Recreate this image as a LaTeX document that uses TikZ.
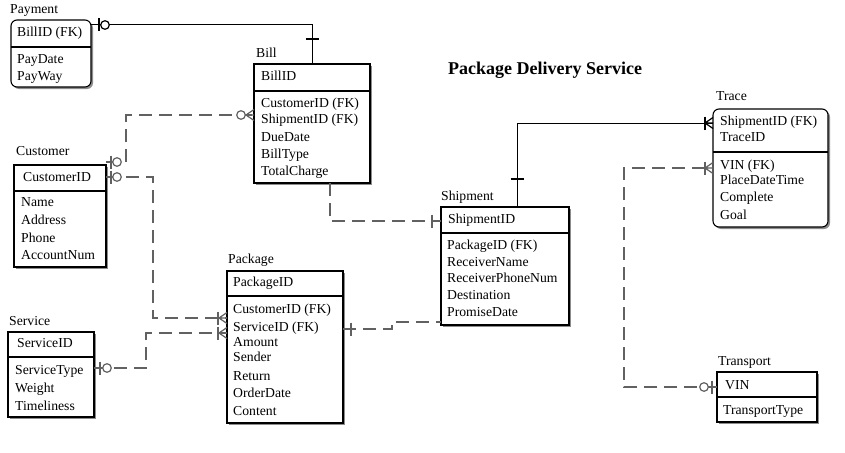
\documentclass[tikz,border=0pt]{standalone}
\usepackage{fontspec}
\setmainfont{Liberation Serif}
\usetikzlibrary{shadows}
\begin{document}
\begin{tikzpicture}[x=1pt,y=-1pt,
  ent/.style={draw=black, line width=1.1pt, fill=white, anchor=north west, inner sep=0pt, outer sep=0pt,
    drop shadow={shadow xshift=2pt, shadow yshift=-2pt, fill=black!45, opacity=1}},
  rnd/.style={rounded corners=6pt},
  div/.style={line width=1.1pt},
  txt/.style={anchor=west, inner sep=0pt, text height=1.55ex, text depth=.45ex, font=\fontsize{13.7}{16}\selectfont},
  conn/.style={line width=1pt, black},
  dconn/.style={line width=1.4pt, black!62, dash pattern=on 13pt off 7pt},
  sym/.style={solid, line width=1.2pt},
  vbar/.pic={\draw[sym] (0,-6.5) -- (0,6.5);},
  hbar/.pic={\draw[sym] (-6.5,0) -- (6.5,0);},
  ocirc/.pic={\draw[sym, fill=white] (0,0) circle (4.3pt);},
  crowfoot/.pic={\draw[sym] (-8,0) -- (0,-5.5) (-8,0) -- (0,0) (-8,0) -- (0,5.5);},
]
\useasboundingbox[fill=white] (0,0) rectangle (845,452);

% title
\node[inner sep=0pt, font=\fontsize{18}{20}\bfseries\selectfont] (ttl) at (545,70) {Package Delivery Service};

% ---------- Payment
\node[ent, rnd, minimum width=80pt, minimum height=67pt] (pay) at (11,20) {};
\draw[div] (11,47) -- (91,47);
\node[txt] (payT) at (10,11) {Payment};
\node[txt] (pay1) at (17,34) {BillID (FK)};
\node[txt] (pay2) at (17,61) {PayDate};
\node[txt] (pay3) at (17,78) {PayWay};

% ---------- Bill
\node[ent, minimum width=116pt, minimum height=119pt] (bill) at (254,64) {};
\draw[div] (254,91) -- (370,91);
\node[txt] (billT) at (256,55) {Bill};
\node[txt] (bill1) at (261,78) {BillID};
\node[txt] (bill2) at (261,105) {CustomerID (FK)};
\node[txt] (bill3) at (261,121) {ShipmentID (FK)};
\node[txt] (bill4) at (261,139) {DueDate};
\node[txt] (bill5) at (261,156) {BillType};
\node[txt] (bill6) at (261,173) {TotalCharge};

% ---------- Customer
\node[ent, minimum width=92pt, minimum height=102pt] (cus) at (14,165) {};
\draw[div] (14,191) -- (106,191);
\node[txt] (cusT) at (16,153) {Customer};
\node[txt] (cus1) at (23,179) {CustomerID};
\node[txt] (cus2) at (21,204) {Name};
\node[txt] (cus3) at (21,222) {Address};
\node[txt] (cus4) at (21,240) {Phone};
\node[txt] (cus5) at (21,257) {AccountNum};

% ---------- Service
\node[ent, minimum width=86pt, minimum height=85pt] (srv) at (8,332) {};
\draw[div] (8,357) -- (94,357);
\node[txt] (srvT) at (9,323) {Service};
\node[txt] (srv1) at (17,345) {ServiceID};
\node[txt] (srv2) at (15,372) {ServiceType};
\node[txt] (srv3) at (15,390) {Weight};
\node[txt] (srv4) at (15,408) {Timeliness};

% ---------- Package
\node[ent, minimum width=116pt, minimum height=152pt] (pkg) at (227,271) {};
\draw[div] (227,296) -- (343,296);
\node[txt] (pkgT) at (228,261) {Package};
\node[txt] (pkg1) at (233,284) {PackageID};
\node[txt] (pkg2) at (233,311) {CustomerID (FK)};
\node[txt] (pkg3) at (233,329) {ServiceID (FK)};
\node[txt] (pkg4) at (233,344) {Amount};
\node[txt] (pkg5) at (233,359) {Sender};
\node[txt] (pkg6) at (233,378) {Return};
\node[txt] (pkg7) at (233,395) {OrderDate};
\node[txt] (pkg8) at (233,413) {Content};

% ---------- Shipment
\node[ent, minimum width=128pt, minimum height=118pt] (shp) at (441,207) {};
\draw[div] (441,233) -- (569,233);
\node[txt] (shpT) at (441,198) {Shipment};
\node[txt] (shp1) at (448,221) {ShipmentID};
\node[txt] (shp2) at (447,247) {PackageID (FK)};
\node[txt] (shp3) at (447,264) {ReceiverName};
\node[txt] (shp4) at (447,280) {ReceiverPhoneNum};
\node[txt] (shp5) at (447,297) {Destination};
\node[txt] (shp6) at (447,314) {PromiseDate};

% ---------- Trace
\node[ent, rnd, minimum width=115pt, minimum height=118pt] (trc) at (713,109) {};
\draw[div] (713,152) -- (828,152);
\node[txt] (trcT) at (716,98) {Trace};
\node[txt] (trc1) at (720,123) {ShipmentID (FK)};
\node[txt] (trc2) at (720,139) {TraceID};
\node[txt] (trc3) at (720,167) {VIN (FK)};
\node[txt] (trc4) at (720,182) {PlaceDateTime};
\node[txt] (trc5) at (720,199) {Complete};
\node[txt] (trc6) at (720,217) {Goal};

% ---------- Transport
\node[ent, minimum width=100pt, minimum height=50pt] (trp) at (717,372) {};
\draw[div] (717,397) -- (817,397);
\node[txt] (trpT) at (718,363) {Transport};
\node[txt] (trp1) at (725,387) {VIN};
\node[txt] (trp2) at (723,412) {TransportType};

% ---------- connector end points
\coordinate (payE) at (91,25);
\coordinate (billN) at (312,64);
\coordinate (cusA) at (106,162);
\coordinate (billW) at (254,115);
\coordinate (cusB) at (106,177);
\coordinate (pkgA) at (227,318);
\coordinate (srvE) at (94,368);
\coordinate (pkgB) at (227,333);
\coordinate (pkgE) at (343,329);
\coordinate (shpA) at (441,322);
\coordinate (billS) at (330,183);
\coordinate (shpB) at (441,221);
\coordinate (shpN) at (517,207);
\coordinate (trcA) at (713,123);
\coordinate (trpW) at (717,387);
\coordinate (trcB) at (713,168);

% Payment - Bill
\draw[conn] (payE) -- (312,25) -- (billN);
\pic at (99,25) {vbar};
\pic at (105,25) {ocirc};
\pic at (312,39) {hbar};

% Customer - Bill
\draw[dconn] (cusA) -- (126,162) -- (126,115) -- (billW);
\pic[black!62] at (111,162) {vbar};
\pic[black!62] at (117,162) {ocirc};
\pic[black!62] at (billW) {crowfoot};
\pic[black!62] at (241,115) {ocirc};

% Customer - Package
\draw[dconn] (cusB) -- (153,177) -- (153,318) -- (pkgA);
\pic[black!62] at (111,177) {vbar};
\pic[black!62] at (117,177) {ocirc};
\pic[black!62] at (pkgA) {crowfoot};
\pic[black!62] at (218,318) {vbar};

% Service - Package
\draw[dconn] (srvE) -- (146,368) -- (146,333) -- (pkgB);
\pic[black!62] at (100,368) {vbar};
\pic[black!62] at (107,368) {ocirc};
\pic[black!62] at (pkgB) {crowfoot};
\pic[black!62] at (218,333) {vbar};

% Package - Shipment
\draw[dconn] (pkgE) -- (392,329) -- (392,322) -- (shpA);
\pic[black!62] at (351,329) {vbar};

% Bill - Shipment
\draw[dconn] (billS) -- (330,221) -- (shpB);
\pic[black!62] at (432,221) {vbar};

% Shipment - Trace
\draw[conn] (shpN) -- (517,123) -- (trcA);
\pic at (517,179) {hbar};
\pic at (trcA) {crowfoot};
\pic at (705,123) {vbar};

% Transport - Trace
\draw[dconn] (trpW) -- (624,387) -- (624,168) -- (trcB);
\pic[black!62] at (712,387) {vbar};
\pic[black!62] at (704,387) {ocirc};
\pic[black!62] at (trcB) {crowfoot};
\pic[black!62] at (705,168) {vbar};
\end{tikzpicture}
\end{document}
